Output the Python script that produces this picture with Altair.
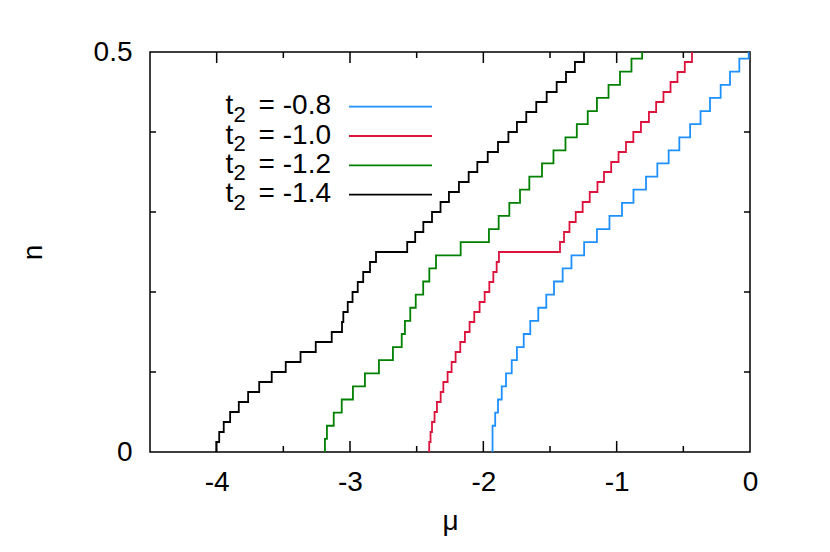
import altair as alt
import pandas as pd

# ---- data: chemical potential mu at each step, and filling n reached after it
series = ["t2 = -0.8", "t2 = -1.0", "t2 = -1.2", "t2 = -1.4"]
legend_values = ["-0.8", "-1.0", "-1.2", "-1.4"]
colors = ["#1e90ff", "#dc143c", "#008000", "#000000"]

blue_mu = [-1.931, -1.911, -1.890, -1.862, -1.830, -1.787, -1.748, -1.697, -1.648, -1.588,
           -1.528, -1.470, -1.405, -1.339, -1.244, -1.148, -1.054, -0.960, -0.874, -0.780,
           -0.695, -0.610, -0.530, -0.449, -0.371, -0.300, -0.220, -0.150, -0.080, -0.010]
blue_n = [0.0328, 0.0492, 0.0656, 0.0820, 0.0984, 0.1148, 0.1311, 0.1475, 0.1639, 0.1803,
          0.1967, 0.2131, 0.2295, 0.2459, 0.2623, 0.2787, 0.2951, 0.3115, 0.3279, 0.3443,
          0.3607, 0.3770, 0.3934, 0.4098, 0.4262, 0.4426, 0.4590, 0.4754, 0.4918, 0.5082]

red_mu = [-2.406, -2.396, -2.385, -2.366, -2.348, -2.320, -2.300, -2.268, -2.238, -2.208,
          -2.173, -2.138, -2.103, -2.068, -2.028, -1.990, -1.955, -1.925, -1.900, -1.883,
          -1.425, -1.395, -1.354, -1.307, -1.255, -1.202, -1.144, -1.095, -1.041, -0.986,
          -0.930, -0.875, -0.818, -0.758, -0.704, -0.649, -0.596, -0.544, -0.489, -0.435]
red_n = [0.0125, 0.025, 0.0375, 0.05, 0.0625, 0.075, 0.0875, 0.1, 0.1125, 0.125,
         0.1375, 0.15, 0.1625, 0.175, 0.1875, 0.2, 0.2125, 0.225, 0.2375, 0.25,
         0.2625, 0.275, 0.2875, 0.3, 0.3125, 0.325, 0.3375, 0.35, 0.3625, 0.375,
         0.3875, 0.4, 0.4125, 0.425, 0.4375, 0.45, 0.4625, 0.475, 0.4875, 0.5]

green_mu = [-3.188, -3.173, -3.122, -3.062, -2.978, -2.888, -2.783, -2.678, -2.612, -2.588,
            -2.548, -2.507, -2.451, -2.405, -2.355, -2.170, -1.958, -1.885, -1.805, -1.725,
            -1.655, -1.560, -1.474, -1.384, -1.299, -1.217, -1.148, -1.061, -0.975, -0.889,
            -0.809]
green_n = [0.0164, 0.0328, 0.0492, 0.0656, 0.0820, 0.0984, 0.1148, 0.1311, 0.1475, 0.1639,
           0.1803, 0.1967, 0.2131, 0.2295, 0.2459, 0.2623, 0.2787, 0.2951, 0.3115, 0.3279,
           0.3443, 0.3607, 0.3770, 0.3934, 0.4098, 0.4262, 0.4426, 0.4590, 0.4754, 0.4918,
           0.5082]

black_mu = [-4.003, -3.981, -3.947, -3.899, -3.834, -3.764, -3.681, -3.587, -3.482, -3.371,
            -3.257, -3.137, -3.060, -3.050, -3.017, -2.981, -2.942, -2.901, -2.850, -2.805,
            -2.571, -2.511, -2.450, -2.385, -2.321, -2.258, -2.183, -2.110, -2.045, -1.967,
            -1.890, -1.812, -1.748, -1.678, -1.603, -1.525, -1.450, -1.380, -1.313, -1.245]
black_n = [0.0125, 0.025, 0.0375, 0.05, 0.0625, 0.075, 0.0875, 0.1, 0.1125, 0.125,
           0.1375, 0.15, 0.1625, 0.175, 0.1875, 0.2, 0.2125, 0.225, 0.2375, 0.25,
           0.2625, 0.275, 0.2875, 0.3, 0.3125, 0.325, 0.3375, 0.35, 0.3625, 0.375,
           0.3875, 0.4, 0.4125, 0.425, 0.4375, 0.45, 0.4625, 0.475, 0.4875, 0.5]

x_labels = [-4, -3, -2, -1, 0]
y_labels = [0, 0.5]
x_major_ticks = [-4, -3, -2, -1]
x_minor_ticks = [-3.5, -2.5, -1.5, -0.5]
y_ticks = [0.1, 0.2, 0.3, 0.4]

FONT = "Liberation Sans"
FS = 28

rows = []
for name, mus, ns in zip(series, [blue_mu, red_mu, green_mu, black_mu],
                         [blue_n, red_n, green_n, black_n]):
    rows.append({"series": name, "mu": mus[0], "n": 0.0, "idx": 0})
    for i, (m, v) in enumerate(zip(mus, ns)):
        rows.append({"series": name, "mu": m, "n": v, "idx": i + 1})
df = pd.DataFrame(rows)

xscale = alt.Scale(domain=[-4.5, 0], nice=False, zero=False)
yscale = alt.Scale(domain=[0, 0.5], nice=False, zero=False)

x_axis = alt.Axis(
    values=x_labels, labelExpr="datum.value + ''", ticks=False, domain=False, grid=False,
    labelFontSize=FS, labelFont=FONT, labelColor="black", labelPadding=16, labelFlush=False,
    title="μ", titleFontSize=FS, titleFont=FONT, titleFontWeight="normal", titleColor="black",
    titleX=300, titleY=77, titleBaseline="alphabetic", titleAlign="center")
y_axis = alt.Axis(
    values=y_labels, labelExpr="datum.value + ''", ticks=False, domain=False, grid=False,
    labelFontSize=FS, labelFont=FONT, labelColor="black", labelPadding=18, labelFlush=False,
    title="n", titleFontSize=FS, titleFont=FONT, titleFontWeight="normal", titleColor="black",
    titleX=-117, titleY=200, titleAngle=-90, titleBaseline="middle", titleAlign="center")

lines = alt.Chart(df).mark_line(interpolate="step-after", clip=True, strokeWidth=1.8).encode(
    x=alt.X("mu:Q", scale=xscale, axis=x_axis),
    y=alt.Y("n:Q", scale=yscale, axis=y_axis),
    color=alt.Color("series:N", scale=alt.Scale(domain=series, range=colors), legend=None),
    order=alt.Order("idx:Q"),
    detail="series:N",
)

def xtick(vals, y0, y1):
    return alt.Chart(pd.DataFrame({"mu": vals})).mark_rule(color="black", strokeWidth=1.5).encode(
        x=alt.X("mu:Q", scale=xscale, axis=x_axis), y=alt.value(y0), y2=alt.value(y1))

def ytick(vals, x0, x1):
    return alt.Chart(pd.DataFrame({"n": vals})).mark_rule(color="black", strokeWidth=1.5).encode(
        y=alt.Y("n:Q", scale=yscale, axis=y_axis), x=alt.value(x0), x2=alt.value(x1))

ticks = [
    xtick(x_major_ticks, 400, 389), xtick(x_major_ticks, 0, 11),
    xtick(x_minor_ticks, 400, 394), xtick(x_minor_ticks, 0, 6),
    ytick(y_ticks, 0, 6), ytick(y_ticks, 594, 600),
]

legend_layers = []
dummy = pd.DataFrame({"a": [0]})
for i, (val, col) in enumerate(zip(legend_values, colors)):
    ly = 54.7 + 29.3 * i
    legend_layers.append(alt.Chart(dummy).mark_rule(color=col, strokeWidth=1.8).encode(
        x=alt.value(199), x2=alt.value(282), y=alt.value(ly)))
    legend_layers.append(alt.Chart(dummy).mark_text(
        text="t", align="left", baseline="alphabetic", font=FONT, fontSize=FS, color="black").encode(
        x=alt.value(75.5), y=alt.value(ly + 7.6)))
    legend_layers.append(alt.Chart(dummy).mark_text(
        text="2", align="left", baseline="alphabetic", font=FONT, fontSize=22, color="black").encode(
        x=alt.value(83.5), y=alt.value(ly + 15)))
    legend_layers.append(alt.Chart(dummy).mark_text(
        text="= " + val, align="right", baseline="alphabetic", font=FONT, fontSize=FS, color="black").encode(
        x=alt.value(181), y=alt.value(ly + 7.6)))

chart = alt.layer(lines, *ticks, *legend_layers).properties(
    width=600, height=400, autosize="none",
    padding={"left": 142, "top": 44, "right": 72, "bottom": 92},
    background="white",
).configure(font=FONT).configure_view(stroke="black", strokeWidth=1.5)

chart.save("out.html", embed_options={"renderer": "svg", "actions": False})
